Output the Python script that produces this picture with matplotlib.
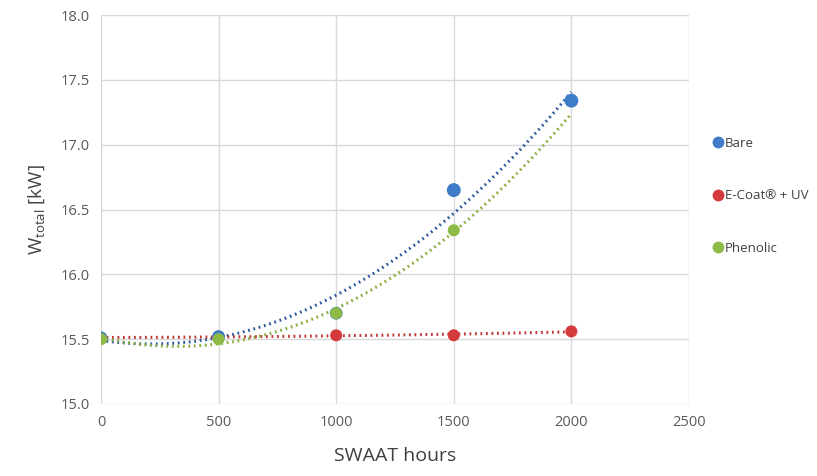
import numpy as np
import matplotlib
matplotlib.use("Agg")
import matplotlib.pyplot as plt
from matplotlib.lines import Line2D

# data
hours = [0, 500, 1000, 1500, 2000]
bare = [15.51, 15.52, 15.70, 16.65, 17.34]
ecoat = [15.51, 15.52, 15.53, 15.53, 15.56]
phenolic_hours = [0, 500, 1000, 1500]
phenolic = [15.50, 15.50, 15.70, 16.34]

labels = ["Bare", "E-Coat\u00ae + UV", "Phenolic"]
colors = ["#3f7cc7", "#d4393c", "#8dbb45"]
trend_colors = ["#2f5a9e", "#c23a3a", "#8aae40"]

plt.rcParams['font.family'] = ['Open Sans', 'DejaVu Sans']

fig = plt.figure(figsize=(8.17, 4.76), dpi=100)
ax = fig.add_axes([0.1236, 0.1513, 0.7197, 0.817])

xs = np.linspace(0, 2000, 200)
series_list = [(hours, bare), (hours, ecoat), (phenolic_hours, phenolic)]
for (hx, series), tc in zip(series_list, trend_colors):
    # 2nd order polynomial trendline (forecast to 2000 h), as in the spreadsheet chart
    coef = np.polyfit(hx, series, 2)
    ax.plot(xs, np.polyval(coef, xs), linestyle=(0, (0.6, 1.2)), color=tc, lw=2.2, zorder=2)

ax.scatter(hours, ecoat, s=75, color=colors[1], zorder=3, edgecolors="none")
ax.scatter(hours[:3], bare[:3], s=85, color=colors[0], zorder=3, edgecolors="none")
ax.scatter(phenolic_hours, phenolic, s=75, color=colors[2], zorder=4, edgecolors="none")
ax.scatter(hours[3:], bare[3:], s=100, color=colors[0], zorder=5, edgecolors="none")

ax.set_xlim(0, 2500)
ax.set_ylim(15.0, 18.0)
ax.set_xticks(np.arange(0, 2501, 500))
ax.set_yticks(np.arange(15.0, 18.01, 0.5))
ax.yaxis.set_major_formatter(matplotlib.ticker.FormatStrFormatter('%.1f'))
ax.grid(True, color="#d9d9d9", lw=1.0)
ax.set_axisbelow(True)
for s in ax.spines.values():
    s.set_visible(False)
ax.tick_params(length=0, labelsize=10.5, labelcolor="#595959", pad=8)

ax.set_xlabel("SWAAT hours", fontsize=14, color="#404040", labelpad=12)
ax.set_ylabel(r"W$_{\mathregular{total}}$ [kW]", fontsize=13.5, color="#404040", labelpad=10)

handles = [Line2D([], [], marker="o", ls="none", color=c, markersize=7.5) for c in colors]
fig.legend(handles, labels, loc="upper left", bbox_to_anchor=(0.863, 0.727),
           frameon=False, fontsize=9.5, handletextpad=0.0, labelspacing=3.0,
           handlelength=1.0, borderpad=0, labelcolor="#404040")

fig.savefig("out.png", dpi=100)
